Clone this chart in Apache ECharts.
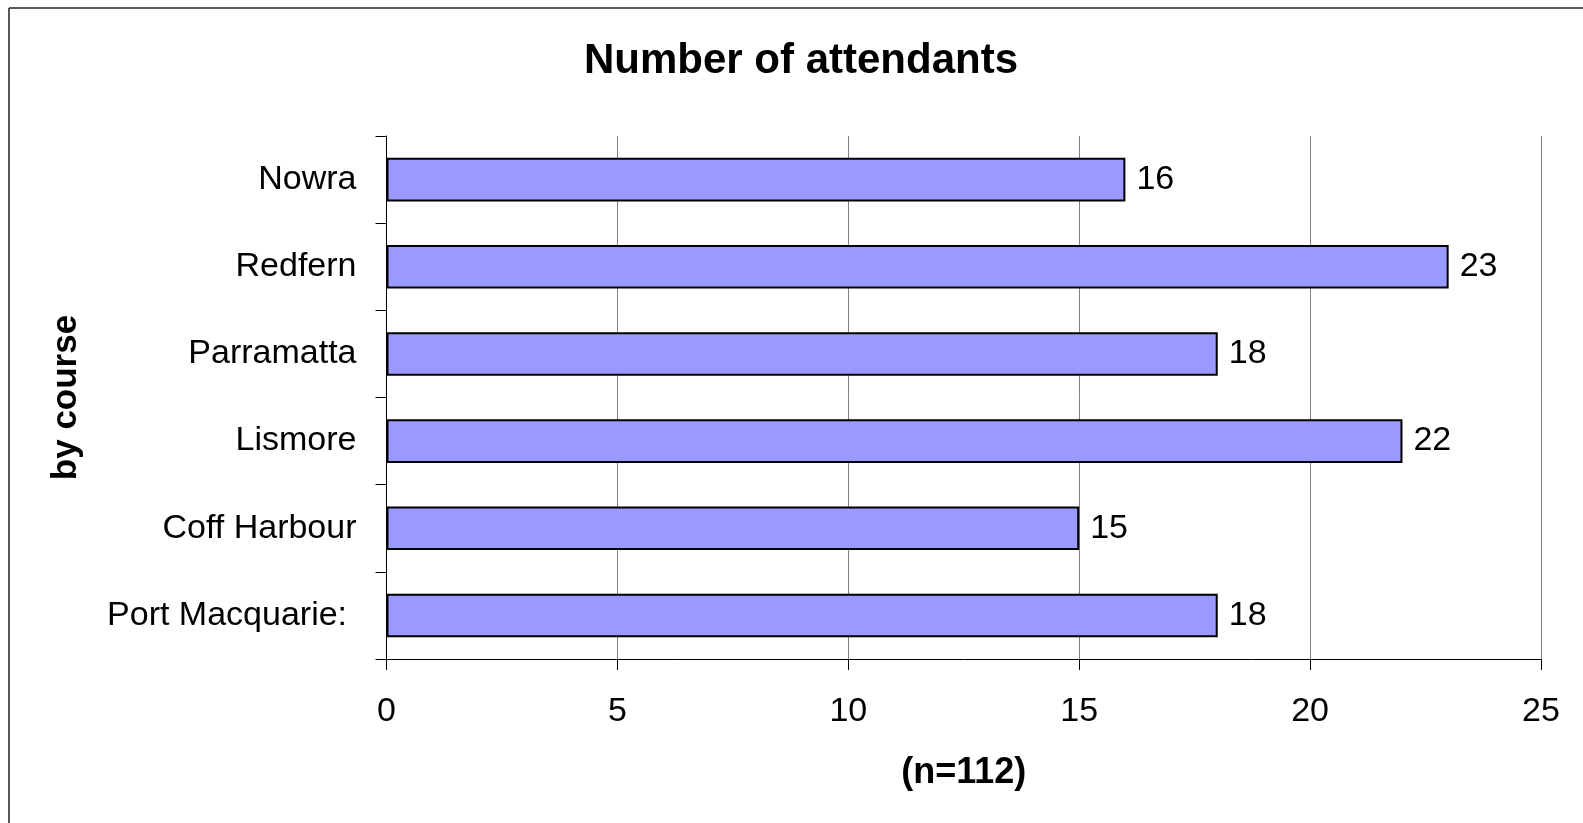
<!DOCTYPE html>
<html>
<head>
<meta charset="utf-8">
<script src="https://cdn.jsdelivr.net/npm/echarts@6/dist/echarts.min.js"></script>
<style>
html,body{margin:0;padding:0;background:#fff;}
#chart{width:1583px;height:823px;}
</style>
</head>
<body>
<div id="chart"></div>
<script>
const categories = ['Port Macquarie: ', 'Coff Harbour', 'Lismore', 'Parramatta', 'Redfern', 'Nowra'];
const values = [18, 15, 22, 18, 23, 16];
const xTicks = [0, 5, 10, 15, 20, 25];

const chart = echarts.init(document.getElementById('chart'), null, {renderer: 'canvas'});
const FONT = 'Liberation Sans, Arial, sans-serif';
chart.setOption({
  backgroundColor: '#ffffff',
  animation: false,
  title: {
    text: 'Number of attendants',
    left: 796, top: 35, textAlign: 'center',
    textStyle: {fontFamily: FONT, fontWeight: 'bold', fontSize: 42, color: '#000'}
  },
  graphic: [
    {type: 'line', shape: {x1: 9, y1: 8, x2: 1583, y2: 8}, style: {stroke: '#222', lineWidth: 1.5}},
    {type: 'line', shape: {x1: 9, y1: 8, x2: 9, y2: 823}, style: {stroke: '#222', lineWidth: 1.5}}
  ],
  grid: {left: 386.5, right: 42, top: 136, bottom: 164, containLabel: false},
  xAxis: {
    type: 'value', min: xTicks[0], max: xTicks[xTicks.length - 1], interval: 5,
    name: '(n=112)', nameLocation: 'middle', nameGap: 96,
    nameTextStyle: {fontFamily: FONT, fontWeight: 'bold', fontSize: 36, color: '#000'},
    axisLine: {show: true, lineStyle: {color: '#000', width: 1}},
    axisTick: {show: true, length: 11, inside: false, lineStyle: {color: '#000', width: 1}},
    axisLabel: {fontFamily: FONT, fontSize: 34, color: '#000', margin: 36},
    splitLine: {show: true, lineStyle: {color: '#808080', width: 1}}
  },
  yAxis: {
    type: 'category', data: categories,
    name: 'by course', nameLocation: 'middle', nameGap: 303, nameRotate: 90,
    nameTextStyle: {fontFamily: FONT, fontWeight: 'bold', fontSize: 35, color: '#000'},
    axisLine: {show: true, onZero: false, lineStyle: {color: '#000', width: 1}},
    axisTick: {show: true, length: 11, alignWithLabel: false, lineStyle: {color: '#000', width: 1}},
    axisLabel: {fontFamily: FONT, fontSize: 34, color: '#000', margin: 30},
    splitLine: {show: false}
  },
  series: [{
    type: 'bar', data: values, barWidth: '50%',
    itemStyle: {color: '#9999FF', borderColor: '#000', borderWidth: 2},
    label: {show: true, position: 'right', distance: 11, fontFamily: FONT, fontSize: 34, color: '#000'}
  }]
});
</script>
</body>
</html>
